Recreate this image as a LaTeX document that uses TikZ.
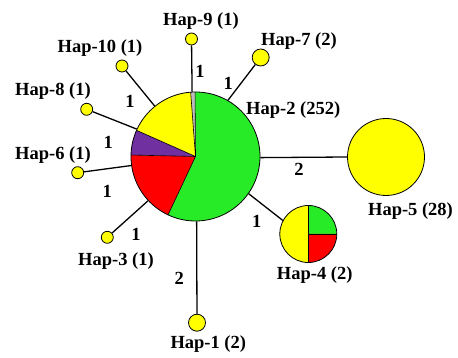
\documentclass[tikz,border=0pt]{standalone}
\usepackage{fontspec}
\setmainfont{Liberation Serif}
\definecolor{pgreen}{RGB}{40,235,40}
\definecolor{pyellow}{RGB}{255,255,0}
\definecolor{pred}{RGB}{255,0,0}
\definecolor{ppurple}{RGB}{112,48,160}
\definecolor{pgray}{RGB}{190,190,190}
\begin{document}
\begin{tikzpicture}[x=1pt,y=1pt,
  hap/.style={circle,draw=black,line width=0.8pt,fill=pyellow,inner sep=0pt},
  big/.style={circle,draw=black,line width=0.8pt,inner sep=0pt},
  lab/.style={font=\fontsize{18.5}{19}\selectfont\bfseries,inner sep=0pt},
  edgelab/.style={font=\fontsize{18.5}{19}\selectfont\bfseries,inner sep=0pt},
  link/.style={line width=1.3pt,black},
  sep/.style={line width=0.6pt,black}]
\useasboundingbox (0,0) rectangle (458,358);
% Hap-2 pie
\coordinate (c2) at (195.5,201.5);
\fill[pgreen]  (c2) -- ++(-115.2:64.5) arc (-115.2:90.4:64.5) -- cycle;
\fill[pgray]   (c2) -- ++(90.4:64.5) arc (90.4:94.3:64.5) -- cycle;
\fill[pyellow] (c2) -- ++(94.3:64.5) arc (94.3:156.1:64.5) -- cycle;
\fill[ppurple] (c2) -- ++(156.1:64.5) arc (156.1:178.7:64.5) -- cycle;
\fill[pred]    (c2) -- ++(178.7:64.5) arc (178.7:244.8:64.5) -- cycle;
\foreach \a in {-115.2,90.4,94.3,156.1,178.7}
  \draw[sep] (c2) -- ++(\a:64.5);
\node[big,minimum size=129pt] (h2) at (c2) {};
% Hap-4 pie
\coordinate (c4) at (308.3,124);
\fill[pyellow] (c4) -- ++(90:28.5) arc (90:270:28.5) -- cycle;
\fill[pgreen]  (c4) -- ++(0:28.5) arc (0:90:28.5) -- cycle;
\fill[pred]    (c4) -- ++(270:28.5) arc (270:360:28.5) -- cycle;
\draw[sep] (c4) -- ++(90:28.5);
\draw[sep] (c4) -- ++(270:28.5);
\draw[sep] (c4) -- ++(0:28.5);
\node[big,minimum size=57pt] (h4) at (c4) {};
% Hap-5
\node[hap,minimum size=77pt] (h5) at (386,201) {};
% small haplotypes
\node[hap,minimum size=12pt] (h9) at (191.5,319) {};
\node[hap,minimum size=12pt] (h10) at (122,292) {};
\node[hap,minimum size=12pt] (h8) at (86.7,248.7) {};
\node[hap,minimum size=17pt] (h7) at (260.7,300.5) {};
\node[hap,minimum size=12pt] (h6) at (77.7,185.3) {};
\node[hap,minimum size=12pt] (h3) at (107.3,120.7) {};
\node[hap,minimum size=17pt] (h1) at (197,35.3) {};
% links
\draw[link] (h9) -- (h2.93);
\draw[link] (h10) -- (h2.129.5);
\draw[link] (h8) -- (h2.155.8);
\draw[link] (h7) -- (h2.60.2);
\draw[link] (h6) -- (h2.188.3);
\draw[link] (h3) -- (h2.223.8);
\draw[link] (h1) -- (h2.271.3);
\draw[link] (h2.-1.3) -- (h5.west);
\draw[link] (h2.-35.2) -- (h4.152.5);
% edge labels
\node[edgelab] (e9) at (200,287) {1};
\node[edgelab] (e7) at (228.3,274.7) {1};
\node[edgelab] (e10) at (130,256.3) {1};
\node[edgelab] (e8) at (108.3,215.3) {1};
\node[edgelab] (e6) at (107.3,167) {1};
\node[edgelab] (e3) at (136,123.7) {1};
\node[edgelab] (e1) at (179.3,79.7) {2};
\node[edgelab] (e5) at (299,189) {2};
\node[edgelab] (e4) at (256.7,136.3) {1};
% haplotype labels
\node[lab] (l9) at (201,337) {Hap-9 (1)};
\node[lab] (l10) at (100,310) {Hap-10 (1)};
\node[lab] (l8) at (53,267.3) {Hap-8 (1)};
\node[lab] (l7) at (299,317) {Hap-7 (2)};
\node[lab,anchor=west] (l2) at (246,248) {Hap-2 (252)};
\node[lab] (l6) at (53,203) {Hap-6 (1)};
\node[lab] (l3) at (116,97.3) {Hap-3 (1)};
\node[lab] (l1) at (208.3,14) {Hap-1 (2)};
\node[lab] (l5) at (410.5,147.3) {Hap-5 (28)};
\node[lab] (l4) at (314.7,83) {Hap-4 (2)};
\end{tikzpicture}
\end{document}
